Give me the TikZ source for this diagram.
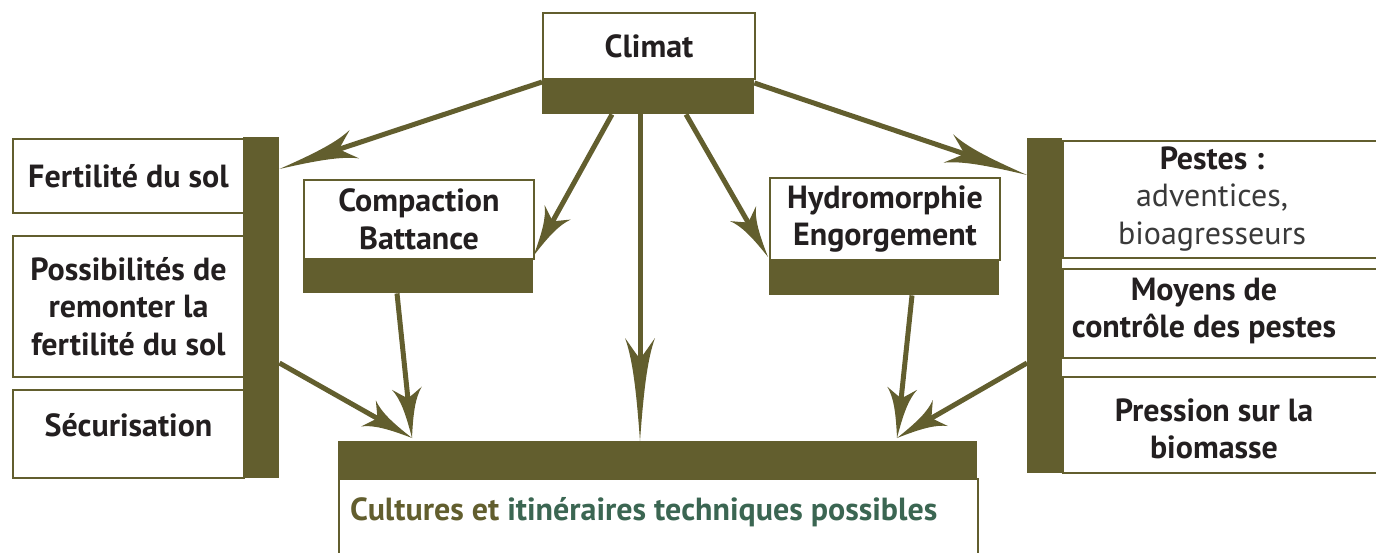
\documentclass[tikz,border=0pt]{standalone}
\usepackage{fontspec}
\setmainfont{PT Sans}
\usetikzlibrary{arrows.meta,calc}
\definecolor{oliv}{HTML}{625E2E}
\definecolor{greent}{HTML}{3B6652}
\definecolor{txtc}{HTML}{231F20}
\definecolor{txtg}{HTML}{3A3A3A}
\pgfdeclarearrow{
  name = Spike,
  parameters = {\the\pgfarrowlength,\the\pgfarrowwidth},
  setup code = {
    \pgfarrowssettipend{0pt}
    \pgfarrowssetlineend{-.75\pgfarrowlength}
    \pgfarrowssetbackend{-\pgfarrowlength}
    \pgfarrowshullpoint{0pt}{0pt}
    \pgfarrowshullpoint{-\pgfarrowlength}{.5\pgfarrowwidth}
    \pgfarrowshullpoint{-\pgfarrowlength}{-.5\pgfarrowwidth}
  },
  drawing code = {
    \pgfpathmoveto{\pgfpoint{0pt}{0pt}}
    \pgfpathcurveto{\pgfpoint{-.5\pgfarrowlength}{.125\pgfarrowwidth}}{\pgfpoint{-.8\pgfarrowlength}{.25\pgfarrowwidth}}{\pgfpoint{-\pgfarrowlength}{.5\pgfarrowwidth}}
    \pgfpathcurveto{\pgfpoint{-.92\pgfarrowlength}{.3\pgfarrowwidth}}{\pgfpoint{-.85\pgfarrowlength}{.15\pgfarrowwidth}}{\pgfpoint{-.8\pgfarrowlength}{0pt}}
    \pgfpathcurveto{\pgfpoint{-.85\pgfarrowlength}{-.15\pgfarrowwidth}}{\pgfpoint{-.92\pgfarrowlength}{-.3\pgfarrowwidth}}{\pgfpoint{-\pgfarrowlength}{-.5\pgfarrowwidth}}
    \pgfpathcurveto{\pgfpoint{-.8\pgfarrowlength}{-.25\pgfarrowwidth}}{\pgfpoint{-.5\pgfarrowlength}{-.125\pgfarrowwidth}}{\pgfpoint{0pt}{0pt}}
    \pgfpathclose
    \pgfusepathqfill
  },
  defaults = {length=50pt, width=30pt}
}
\begin{document}
\begin{tikzpicture}[x=1pt,y=-1pt,
  wbox/.style={draw=oliv, line width=2pt, fill=white, inner sep=0pt, align=center,
    anchor=north west, text=txtc, font=\bfseries\fontsize{32}{37.5}\selectfont},
  dbar/.style={fill=oliv, draw=none, inner sep=0pt, anchor=north west},
  lbl/.style={align=center, inner sep=0pt, text=txtc, font=\bfseries\fontsize{32}{37.5}\selectfont},
  arr/.style={draw=oliv, line width=5pt, -{Spike[length=50pt,width=30pt]}},
  arrlong/.style={draw=oliv, line width=5pt, -{Spike[length=#1,width=30pt]}}]
\useasboundingbox (0,0) rectangle (1376,553);
% left column
\node[wbox, minimum width=231pt, minimum height=74pt] (fert) at (12,138) {Fertilité du sol};
\node[wbox, minimum width=231pt, minimum height=141pt] (poss) at (12,235) {Possibilités de\\remonter la\\fertilité du sol};
\node[wbox, minimum width=231pt, minimum height=88pt] (secu) at (12,389) {\raisebox{18pt}{Sécurisation}};
\node[dbar, minimum width=36pt, minimum height=341pt] (lbar) at (243,137) {};
% climat
\node[wbox, minimum width=212pt, minimum height=66pt] (clim) at (542,12) {Climat};
\node[dbar, minimum width=212pt, minimum height=36pt] (climbar) at (542,78) {};
% compaction
\node[wbox, minimum width=230pt, minimum height=79pt] (comp) at (303,179) {Compaction\\Battance};
\node[dbar, minimum width=230pt, minimum height=35pt] (compbar) at (303,258) {};
% hydromorphie
\node[wbox, minimum width=230pt, minimum height=82pt] (hyd) at (769,177) {Hydromorphie\\Engorgement};
\node[dbar, minimum width=230pt, minimum height=36pt] (hydbar) at (769,259) {};
% right column
\node[wbox, minimum width=340pt, minimum height=117pt] (pest) at (1062,140) {};
\node[wbox, minimum width=340pt, minimum height=89pt] (moy) at (1062,268) {};
\node[wbox, minimum width=340pt, minimum height=96pt] (pres) at (1062,376) {};
\node[dbar, minimum width=35pt, minimum height=335pt] (rbar) at (1027,138) {};
\node[lbl] (pestT) at ($(pest.north west)+(150,59)$) {Pestes :\\{\mdseries\color{txtg}adventices,}\\{\mdseries\color{txtg}bioagresseurs}};
\node[lbl] (moyT) at ($(moy.north west)+(142,43)$) {Moyens de\\contrôle des pestes};
\node[lbl] (presT) at ($(pres.north west)+(152,53)$) {Pression sur la\\biomasse};
% bottom
\node[dbar, minimum width=639pt, minimum height=37pt] (botbar) at (338,441) {};
\node[wbox, minimum width=639pt, minimum height=100pt] (botbox) at (338,478) {};
\node[anchor=west, inner sep=0pt, font=\bfseries\fontsize{32}{37.5}\selectfont] (botT) at ($(botbox.north west)+(12,34)$)
  {\textcolor{oliv}{Cultures et} \textcolor{greent}{itinéraires techniques possibles}};
% arrows
\coordinate (c3) at ($(climbar.south west)+(98,0)$);
\coordinate (tipL) at ($(botbar.north west)+(74,-3)$);
\coordinate (tipR) at ($(botbar.north west)+(559,-3)$);
\draw[arrlong=79pt] ($(climbar.north west)+(0,4)$) -- ($(lbar.north east)+(0,32)$);
\draw[arr] ($(climbar.south west)+(70,0)$) -- ($(compbar.north east)+(0,-2)$);
\draw[arrlong=103pt] (c3) -- (c3 |- botbar.north);
\draw[arr] ($(climbar.south west)+(144,0)$) -- ($(hydbar.north west)+(-1,-2)$);
\draw[arrlong=83pt] ($(climbar.north east)+(0,5)$) -- ($(rbar.north west)+(0,37)$);
\draw[arr] ($(compbar.south west)+(94,0)$) -- (tipL);
\draw[arr] ($(lbar.north east)+(0,226)$) -- (tipL);
\draw[arr] ($(hydbar.south west)+(143,0)$) -- (tipR);
\draw[arr] ($(rbar.north west)+(0,225)$) -- (tipR);
\end{tikzpicture}
\end{document}
